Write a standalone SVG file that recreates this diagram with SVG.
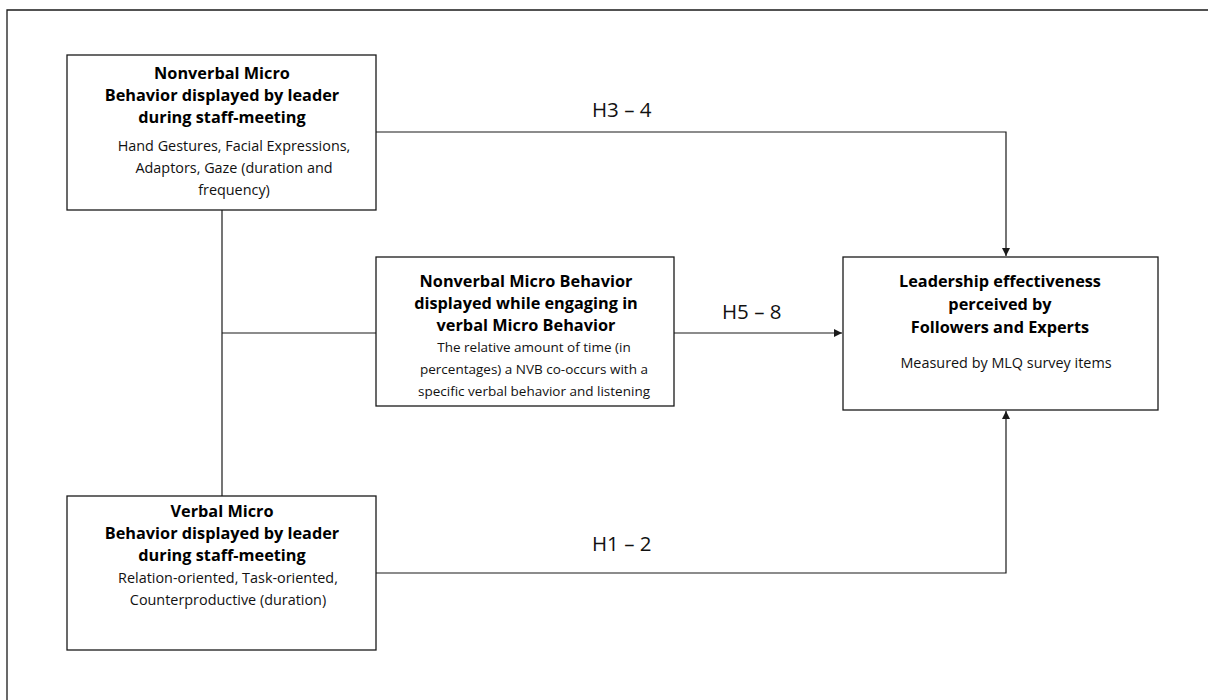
<svg xmlns="http://www.w3.org/2000/svg" width="1208" height="700" viewBox="0 0 1208 700">
  <style>
    .box { fill: #ffffff; stroke: #1a1a1a; stroke-width: 1.3; }
    .frame { fill: none; stroke: #1a1a1a; stroke-width: 1.3; }
    .link { fill: none; stroke: #1a1a1a; stroke-width: 1.2; }
    .title { font-family: "Open Sans", "Liberation Sans", sans-serif; font-weight: bold; font-size: 16.3px; fill: #000; text-anchor: middle; }
    .body { font-family: "Open Sans", "Liberation Sans", sans-serif; font-size: 14.4px; fill: #111; text-anchor: middle; }
    .small { font-size: 13.5px; }
    .hyp { font-family: "Open Sans", "Liberation Sans", sans-serif; font-size: 20.5px; fill: #111; }
  </style>
  <defs>
    <marker id="arrow" viewBox="0 0 10 10" refX="10" refY="5" markerWidth="8" markerHeight="8" markerUnits="userSpaceOnUse" orient="auto">
      <path d="M0,0 L10,5 L0,10 Z" fill="#1a1a1a"/>
    </marker>
  </defs>

  <rect width="1208" height="700" fill="#ffffff"/>
  <!-- outer page frame -->
  <path class="frame" d="M7,700 V10 H1208"/>

  <!-- connectors -->
  <g id="connectors">
    <path class="link" d="M222,210 V496"/>
    <path class="link" d="M222,333 H376"/>
    <path class="link" d="M376,132 H1006 V256" marker-end="url(#arrow)"/>
    <path class="link" d="M674,333 H842" marker-end="url(#arrow)"/>
    <path class="link" d="M376,573 H1006 V411" marker-end="url(#arrow)"/>
    <text class="hyp" x="592" y="117">H3 – 4</text>
    <text class="hyp" x="722" y="319">H5 – 8</text>
    <text class="hyp" x="592" y="551">H1 – 2</text>
  </g>

  <!-- nonverbal micro behavior node -->
  <g id="nonverbal">
    <rect class="box" x="67" y="55" width="309" height="155"/>
    <text class="title" x="222" y="79">Nonverbal Micro</text>
    <text class="title" x="222" y="101">Behavior displayed by leader</text>
    <text class="title" x="222" y="123">during staff-meeting</text>
    <text class="body" x="234" y="151">Hand Gestures, Facial Expressions,</text>
    <text class="body" x="234" y="173">Adaptors, Gaze (duration and</text>
    <text class="body" x="234" y="195">frequency)</text>
  </g>

  <!-- co-occurrence node -->
  <g id="cooccurrence">
    <rect class="box" x="376" y="257" width="298" height="149"/>
    <text class="title" x="526" y="287">Nonverbal Micro Behavior</text>
    <text class="title" x="526" y="309">displayed while engaging in</text>
    <text class="title" x="526" y="331">verbal Micro Behavior</text>
    <text class="body small" x="534" y="352">The relative amount of time (in</text>
    <text class="body small" x="534" y="374">percentages) a NVB co-occurs with a</text>
    <text class="body small" x="534" y="396">specific verbal behavior and listening</text>
  </g>

  <!-- outcome node -->
  <g id="effectiveness">
    <rect class="box" x="843" y="257" width="315" height="153"/>
    <text class="title" x="1000" y="287">Leadership effectiveness</text>
    <text class="title" x="1000" y="310">perceived by</text>
    <text class="title" x="1000" y="333">Followers and Experts</text>
    <text class="body" x="1006" y="368">Measured by MLQ survey items</text>
  </g>

  <!-- verbal micro behavior node -->
  <g id="verbal">
    <rect class="box" x="67" y="496" width="309" height="154"/>
    <text class="title" x="222" y="517">Verbal Micro</text>
    <text class="title" x="222" y="539">Behavior displayed by leader</text>
    <text class="title" x="222" y="561">during staff-meeting</text>
    <text class="body" x="228" y="583">Relation-oriented, Task-oriented,</text>
    <text class="body" x="228" y="605">Counterproductive (duration)</text>
  </g>
</svg>
